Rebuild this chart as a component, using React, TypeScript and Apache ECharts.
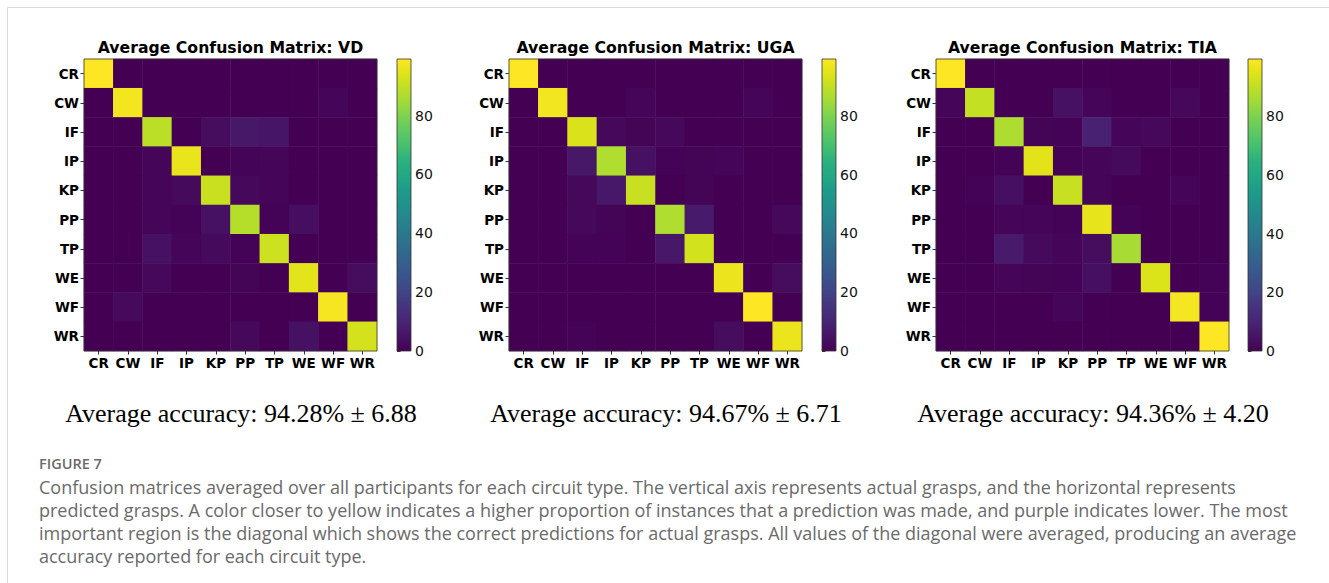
import React, { useEffect, useRef } from 'react';
import * as echarts from 'echarts';

// ---------------- data ----------------
const grasps = ['CR', 'CW', 'IF', 'IP', 'KP', 'PP', 'TP', 'WE', 'WF', 'WR'];
const colorbarTicks = [0, 20, 40, 60, 80];
const circuitTitles = [
  'Average Confusion Matrix: VD',
  'Average Confusion Matrix: UGA',
  'Average Confusion Matrix: TIA',
];
const accuracyTexts = [
  'Average accuracy: 94.28% ± 6.88',
  'Average accuracy: 94.67% ± 6.71',
  'Average accuracy: 94.36% ± 4.20',
];
// rows = actual grasp, columns = predicted grasp (%)
const vdMatrix = [
  [99.2, 0, 0, 0, 0, 0, 0, 0, 0, 0],
  [0, 97.5, 0, 0, 0, 0, 0, 0, 1.2, 0],
  [0, 0, 89, 0, 3, 6, 5.5, 0, 0, 0],
  [0, 0, 1.5, 96, 0, 0.8, 1.5, 0, 0, 0],
  [0, 0, 1.5, 2.5, 91, 2, 1.2, 0, 0, 0],
  [0, 0, 1.5, 0.5, 4.5, 88, 0.5, 3.5, 0, 0],
  [0, 0, 4.5, 1.5, 2.5, 0.5, 91.5, 0, 0, 0],
  [0, 0, 2, 0, 0, 1, 0, 95, 0, 3],
  [0, 2.5, 0, 0, 0, 0, 0, 0, 98, 0],
  [0, 0, 0, 0, 0, 2, 0, 4.5, 0, 92.5],
];
const ugaMatrix = [
  [99.3, 0, 0, 0, 0, 0, 0, 0, 0, 0],
  [0, 97.5, 0, 0, 1.5, 0, 0, 0, 1.5, 0],
  [0, 0, 93.5, 2, 1, 2, 0, 0, 0, 0],
  [0, 0, 6, 87, 4.5, 0.5, 1, 1.5, 0, 0],
  [0, 0, 2, 6.5, 91, 0, 1, 0, 0, 0],
  [0, 0, 2, 1, 0, 87, 7, 0, 0, 2],
  [0, 0, 0.5, 0.5, 0, 6.5, 92.5, 0, 0, 0],
  [0, 0, 0, 0, 0, 0, 0, 96.5, 0, 3],
  [0, 0, 0, 0, 0, 0, 0, 0, 99.3, 0],
  [0, 0, 0.5, 0, 0, 0, 0, 3, 0, 96.5],
];
const tiaMatrix = [
  [99.5, 0, 0, 0, 0, 0, 0, 0, 0, 0],
  [1.5, 90.5, 0, 0, 4.5, 1.5, 0, 0, 2, 0],
  [0, 0, 87, 1, 0.5, 9, 1.5, 2, 0, 0],
  [0, 0, 0.5, 95, 0.5, 1.5, 2.5, 0, 0, 0],
  [0, 0.5, 4, 0, 91, 1.5, 0, 0, 1.5, 0],
  [0, 0, 1.5, 1.5, 0.5, 96, 0.5, 0, 0, 0],
  [0, 0, 7, 2.5, 1.5, 3, 86, 0, 0, 0],
  [0, 0, 1.5, 1, 0.5, 4, 0, 94, 0, 0.5],
  [0, 0, 0, 0, 1.5, 0, 0, 0, 98, 0.5],
  [0, 0, 0, 0, 0, 0, 0, 0, 0, 99.5],
];
const matrices = [vdMatrix, ugaMatrix, tiaMatrix];

const captionLabel = 'FIGURE 7';
const captionLines = [
  'Confusion matrices averaged over all participants for each circuit type. The vertical axis represents actual grasps, and the horizontal represents',
  'predicted grasps. A color closer to yellow indicates a higher proportion of instances that a prediction was made, and purple indicates lower. The most',
  'important region is the diagonal which shows the correct predictions for actual grasps. All values of the diagonal were averaged, producing an average',
  'accuracy reported for each circuit type.',
];

// viridis colormap stops (0, 0.05, ..., 1)
const viridis = [
  '#440154', '#471365', '#482475', '#46327e', '#414487', '#3b528b', '#355f8d',
  '#2f6c8e', '#2a788e', '#25858e', '#21918c', '#1e9b8a', '#22a884', '#2ab07f',
  '#44bf70', '#5ec962', '#7ad151', '#9fda3a', '#bddf26', '#dfe318', '#fde725',
];

// ---------------- layout ----------------
const PLOT_LEFT = [84, 509, 936];
const PLOT_TOP = 59;
const PLOT_W = 293;
const PLOT_H = 292;
const CB_LEFT = [397, 822, 1248];
const CB_W = 14;
const ACC_X = [241, 666, 1093];

function buildOption() {
  const grid: any[] = [];
  const xAxis: any[] = [];
  const yAxis: any[] = [];
  const series: any[] = [];
  const visualMap: any[] = [];
  const graphic: any[] = [];

  matrices.forEach((m, i) => {
    const vmax = Math.max(...m.flat());
    grid.push({ left: PLOT_LEFT[i], top: PLOT_TOP, width: PLOT_W, height: PLOT_H, containLabel: false });
    grid.push({ left: CB_LEFT[i], top: PLOT_TOP, width: CB_W, height: PLOT_H, containLabel: false });
    const catLabel = {
      fontFamily: 'DejaVu Sans',
      fontWeight: 'bold',
      fontSize: 13.5,
      color: '#000',
      margin: 5,
      interval: 0,
    };
    const tick = { show: true, alignWithLabel: true, length: 3.5, lineStyle: { color: '#333', width: 1 } };
    xAxis.push({
      type: 'category', gridIndex: 2 * i, data: grasps,
      axisLine: { show: false }, axisTick: tick, axisLabel: catLabel, splitLine: { show: false },
    });
    xAxis.push({ type: 'value', gridIndex: 2 * i + 1, show: false, min: 0, max: 1 });
    yAxis.push({
      type: 'category', gridIndex: 2 * i, data: grasps, inverse: true,
      axisLine: { show: false }, axisTick: tick, axisLabel: catLabel, splitLine: { show: false },
    });
    yAxis.push({
      type: 'value', gridIndex: 2 * i + 1, min: 0, max: vmax, position: 'right',
      axisLine: { show: false },
      axisTick: { show: true, length: 3.5, customValues: colorbarTicks, lineStyle: { color: '#333', width: 1 } },
      axisLabel: { customValues: colorbarTicks, fontFamily: 'DejaVu Sans', fontSize: 14, color: '#111', margin: 4 },
      splitLine: { show: false },
    });
    const data: number[][] = [];
    m.forEach((row, r) => row.forEach((v, c) => data.push([c, r, v])));
    series.push({
      type: 'heatmap', xAxisIndex: 2 * i, yAxisIndex: 2 * i, data,
      itemStyle: { borderWidth: 0 }, emphasis: { disabled: true }, progressive: 0,
    });
    visualMap.push({
      type: 'continuous', seriesIndex: i, dimension: 2, min: 0, max: vmax, show: false,
      inRange: { color: viridis },
    });

    // colorbar gradient + outline
    const stops = viridis.map((c, k) => ({ offset: k / (viridis.length - 1), color: c }));
    graphic.push({
      type: 'rect', z: 5,
      shape: { x: CB_LEFT[i], y: PLOT_TOP, width: CB_W, height: PLOT_H },
      style: { fill: new echarts.graphic.LinearGradient(0, 1, 0, 0, stops), stroke: '#333', lineWidth: 0.8 },
    });
    // plot outline
    graphic.push({
      type: 'rect', z: 50,
      shape: { x: PLOT_LEFT[i], y: PLOT_TOP, width: PLOT_W, height: PLOT_H },
      style: { fill: 'none', stroke: '#333', lineWidth: 0.8 },
    });
    // title
    graphic.push({
      type: 'text', z: 50, x: PLOT_LEFT[i] + PLOT_W / 2, y: 47,
      style: {
        text: circuitTitles[i], fill: '#000', align: 'center', verticalAlign: 'middle',
        font: 'bold 15.7px "DejaVu Sans"',
      },
    });
    // accuracy
    graphic.push({
      type: 'text', z: 50, x: ACC_X[i], y: 413,
      style: {
        text: accuracyTexts[i], fill: '#000', align: 'center', verticalAlign: 'middle',
        font: '26px "Liberation Serif"',
      },
    });
  });

  // frame lines
  graphic.push({ type: 'line', z: 1, shape: { x1: 7.5, y1: 7.5, x2: 1329, y2: 7.5 }, style: { stroke: '#dadada', lineWidth: 1 } });
  graphic.push({ type: 'line', z: 1, shape: { x1: 7.5, y1: 7.5, x2: 7.5, y2: 583 }, style: { stroke: '#dadada', lineWidth: 1 } });

  // caption
  graphic.push({
    type: 'text', z: 50, x: 39, y: 463,
    style: { text: captionLabel, fill: '#6a6a6a', align: 'left', verticalAlign: 'middle', font: '600 14.5px "Open Sans"' },
  });
  captionLines.forEach((t, k) => {
    graphic.push({
      type: 'text', z: 50, x: 39, y: 487 + k * 23,
      style: { text: t, fill: '#6a6a6a', align: 'left', verticalAlign: 'middle', font: '18px "Open Sans"' },
    });
  });

  return {
    animation: false,
    backgroundColor: '#fff',
    grid, xAxis, yAxis, series, visualMap, graphic,
  };
}

export default function App() {
  const ref = useRef<HTMLDivElement>(null);
  useEffect(() => {
    const chart = echarts.init(ref.current!, null, { renderer: 'svg' });
    chart.setOption(buildOption() as any);
    return () => chart.dispose();
  }, []);
  return (
    <div
      ref={ref}
      style={{ position: 'absolute', left: 0, top: 0, width: 1329, height: 583, background: '#fff' }}
    />
  );
}
